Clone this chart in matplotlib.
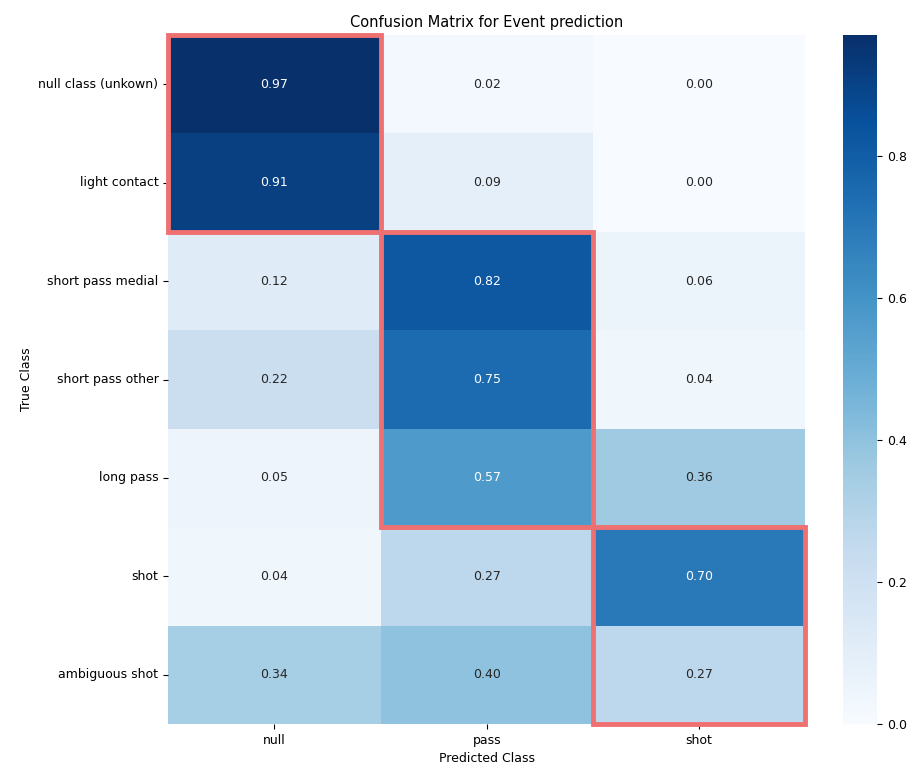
import matplotlib
matplotlib.use("Agg")
import matplotlib.pyplot as plt
import seaborn as sns
import numpy as np
from matplotlib.patches import Rectangle

true_classes = ["null class (unkown)", "light contact", "short pass medial",
                "short pass other", "long pass", "shot", "ambiguous shot"]
pred_classes = ["null", "pass", "shot"]
col_null = [0.97, 0.91, 0.12, 0.22, 0.05, 0.04, 0.34]
col_pass = [0.02, 0.09, 0.82, 0.75, 0.57, 0.27, 0.40]
col_shot = [0.00, 0.00, 0.06, 0.04, 0.36, 0.70, 0.27]
# highlight groups: (column, first row, last row)
highlights = [(0, 0, 1), (1, 2, 4), (2, 5, 6)]

data = np.array([col_null, col_pass, col_shot]).T

fig = plt.figure(figsize=(9.14, 7.69), dpi=100)
ax = fig.add_axes([0.184, 0.0585, 0.697, 0.896])
cax = fig.add_axes([0.922, 0.0585, 0.038, 0.896])

sns.heatmap(data, annot=True, fmt=".2f", cmap="Blues", ax=ax, cbar_ax=cax,
            xticklabels=pred_classes, yticklabels=true_classes,
            annot_kws={"fontsize": 9})

for col, r0, r1 in highlights:
    ax.add_patch(Rectangle((col, r0), 1, r1 - r0 + 1, fill=False,
                           edgecolor="#ef7070", linewidth=3.5, clip_on=False, zorder=5))

ax.set_title("Confusion Matrix for Event prediction", fontsize=10.5)
ax.set_xlabel("Predicted Class", fontsize=9)
ax.set_ylabel("True Class", fontsize=9)
ax.tick_params(labelsize=9)
plt.setp(ax.get_yticklabels(), rotation=0)
cax.tick_params(labelsize=9)
cax.set_yticks([0.0, 0.2, 0.4, 0.6, 0.8])

fig.savefig("out.png", dpi=100)
